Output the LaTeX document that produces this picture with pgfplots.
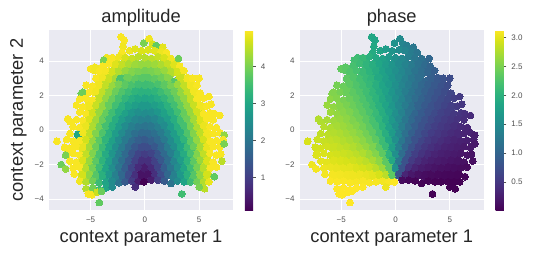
\documentclass[border=0pt]{standalone}
\usepackage{pgfplots}
\usepackage{pgfplotstable}
\usepackage{fontspec}
\setmainfont{Liberation Sans}
\pgfplotsset{compat=1.18}
\definecolor{bgc}{HTML}{EAEAF2}
\definecolor{txt}{HTML}{262626}
\pgfplotstableread{
x y a p
-2.2 5.4 4.95 1.87
-1.9 5.2 4.95 1.84
-2.0 4.85 4.9 1.88
-0.1 5.05 4.0 1.6
0.4 5.3 4.9 1.5
0.7 5.0 4.7 1.43
1.05 4.9 3.8 1.35
1.65 4.8 4.8 1.25
-3.5 4.2 4.9 2.15
-3.8 4.05 4.0 2.18
-2.1 4.5 4.95 1.92
-1.4 4.6 4.87 1.83
-0.9 4.7 4.77 1.72
-0.3 4.6 4.72 1.62
0.3 4.65 4.72 1.52
0.9 4.6 4.77 1.42
1.5 4.55 4.87 1.31
2.0 4.5 4.95 1.22
-3.0 4.2 4.95 2.1
-2.4 4.25 4.88 1.99
-1.8 4.2 4.7 1.89
-1.2 4.15 4.57 1.79
-0.6 4.25 4.49 1.68
0.0 4.2 4.46 1.57
0.6 4.15 4.49 1.46
1.2 4.25 4.57 1.35
1.8 4.2 4.7 1.25
2.4 4.15 4.88 1.15
3.1 4.15 3.9 1.03
-3.9 3.7 4.95 2.22
-3.3 3.85 4.95 2.14
-2.7 3.8 4.76 2.05
-2.1 3.75 4.56 1.96
-1.5 3.85 4.4 1.85
-0.9 3.8 4.28 1.74
-0.3 3.75 4.23 1.63
0.3 3.85 4.23 1.51
0.9 3.8 4.28 1.4
1.5 3.75 4.4 1.29
2.1 3.85 4.56 1.18
2.7 3.8 4.76 1.09
3.2 3.7 4.95 1.0
-5.0 3.55 4.95 2.38
-4.6 3.55 4.9 2.33
-4.2 3.4 4.95 2.28
-3.6 3.45 4.93 2.21
-3.0 3.35 4.67 2.12
-2.4 3.4 4.43 2.03
-1.8 3.45 4.24 1.93
-1.2 3.35 4.09 1.81
-0.6 3.4 4.0 1.69
0.0 3.45 3.97 1.57
0.6 3.35 4.0 1.45
1.2 3.4 4.09 1.33
1.8 3.45 4.24 1.21
2.4 3.35 4.43 1.11
3.0 3.4 4.67 1.02
3.6 3.45 4.93 0.93
-4.5 3.0 4.95 2.35
-3.9 3.05 4.9 2.28
-3.3 2.95 4.6 2.2
-2.7 3.0 4.33 2.11
-2.3 2.95 3.6 2.05
-1.5 3.05 3.92 1.89
-0.9 2.95 3.79 1.77
-0.3 3.0 3.73 1.64
0.3 3.05 3.73 1.5
0.9 2.95 3.79 1.37
1.5 3.0 3.92 1.25
2.1 3.05 4.1 1.14
2.8 2.75 3.7 1.03
3.3 3.0 4.6 0.94
3.9 2.95 4.9 0.86
4.4 3.0 4.95 0.79
5.0 3.0 4.95 0.73
-5.4 2.6 4.95 2.48
-4.8 2.55 4.95 2.42
-4.2 2.65 4.89 2.35
-3.6 2.6 4.55 2.27
-3.0 2.55 4.25 2.19
-2.4 2.65 3.99 2.09
-1.8 2.6 3.77 1.97
-1.2 2.55 3.6 1.84
-0.6 2.65 3.5 1.71
0.0 2.6 3.47 1.57
0.6 2.55 3.5 1.43
1.2 2.65 3.6 1.3
1.8 2.6 3.77 1.17
2.4 2.55 3.99 1.05
3.0 2.65 4.25 0.95
3.6 2.6 4.55 0.87
4.2 2.55 4.89 0.79
4.8 2.6 4.95 0.72
-5.7 2.1 3.9 2.54
-5.1 2.2 4.95 2.48
-4.5 2.25 4.9 2.42
-3.9 2.15 4.54 2.35
-3.3 2.2 4.21 2.27
-2.7 2.25 3.9 2.17
-2.1 2.15 3.65 2.06
-1.5 2.2 3.45 1.93
-0.9 2.25 3.3 1.8
-0.3 2.15 3.23 1.65
0.3 2.2 3.23 1.49
0.9 2.25 3.3 1.34
1.5 2.15 3.45 1.21
2.1 2.2 3.65 1.08
2.7 2.25 3.9 0.97
3.3 2.15 4.21 0.87
3.9 2.2 4.54 0.79
4.5 2.25 4.9 0.72
5.1 2.15 4.95 0.66
-6.0 1.8 4.95 2.6
-5.4 1.85 4.95 2.55
-4.8 1.75 4.94 2.49
-4.2 1.8 4.55 2.43
-3.6 1.85 4.19 2.35
-3.0 1.75 3.86 2.26
-2.4 1.8 3.57 2.15
-1.8 1.85 3.33 2.03
-1.2 1.75 3.14 1.89
-0.6 1.8 3.02 1.73
0.0 1.85 2.98 1.57
0.6 1.75 3.02 1.41
1.2 1.8 3.14 1.25
1.8 1.85 3.33 1.11
2.4 1.75 3.57 0.99
3.0 1.8 3.86 0.88
3.6 1.85 4.19 0.79
4.2 1.75 4.55 0.71
4.8 1.8 4.94 0.65
5.4 1.85 4.95 0.59
5.9 1.95 4.95 0.54
-6.3 1.45 4.95 2.65
-5.7 1.35 4.95 2.61
-5.1 1.4 4.9 2.56
-4.5 1.45 4.59 2.5
-3.9 1.35 4.21 2.43
-3.3 1.4 3.85 2.35
-2.7 1.45 3.51 2.25
-2.1 1.35 3.23 2.13
-1.5 1.4 2.99 1.99
-0.9 1.45 2.83 1.83
-0.3 1.35 2.74 1.66
0.3 1.4 2.74 1.48
0.9 1.45 2.83 1.31
1.5 1.35 2.99 1.15
2.1 1.4 3.23 1.01
2.7 1.45 3.51 0.89
3.3 1.35 3.85 0.79
3.9 1.4 4.21 0.71
4.5 1.45 4.59 0.64
5.1 1.35 4.9 0.58
5.7 1.4 4.95 0.53
6.1 1.5 4.95 0.49
-6.0 1.05 4.95 2.67
-5.4 0.95 4.95 2.63
-4.8 1.0 4.66 2.58
-4.2 1.05 4.24 2.52
-3.6 0.95 3.85 2.44
-3.0 1.0 3.49 2.35
-2.4 1.05 3.17 2.24
-1.8 0.95 2.89 2.11
-1.2 1.0 2.67 1.95
-0.6 1.05 2.53 1.76
0.0 0.95 2.48 1.57
0.6 1.0 2.53 1.38
1.2 1.05 2.67 1.19
1.8 0.95 2.89 1.03
2.4 1.0 3.17 0.9
3.0 1.05 3.49 0.79
3.6 0.95 3.85 0.7
4.2 1.0 4.24 0.62
4.8 1.05 4.66 0.56
5.4 0.95 4.95 0.51
6.0 1.0 4.95 0.47
6.4 0.95 4.95 0.43
-7.1 0.65 4.95 2.78
-6.9 0.5 4.95 2.76
-6.3 0.6 4.95 2.73
-5.7 0.55 4.95 2.69
-5.1 0.65 4.74 2.65
-4.5 0.6 4.31 2.6
-3.9 0.55 3.9 2.53
-3.3 0.65 3.51 2.45
-2.7 0.6 3.14 2.35
-2.1 0.55 2.82 2.23
-1.5 0.65 2.55 2.07
-0.9 0.6 2.35 1.89
-0.3 0.55 2.24 1.68
0.3 0.65 2.24 1.46
0.9 0.6 2.35 1.25
1.5 0.55 2.55 1.07
2.1 0.65 2.82 0.91
2.7 0.6 3.14 0.79
3.3 0.55 3.51 0.69
3.9 0.65 3.9 0.61
4.5 0.6 4.31 0.54
5.1 0.55 4.74 0.49
5.7 0.65 4.95 0.45
6.3 0.6 4.95 0.41
6.9 0.85 4.95 0.38
-6.6 0.2 4.95 2.79
-6.0 0.15 4.95 2.76
-5.4 0.25 4.85 2.72
-4.8 0.2 4.41 2.67
-4.2 0.15 3.97 2.62
-3.6 0.25 3.55 2.55
-3.0 0.2 3.16 2.46
-2.4 0.15 2.79 2.35
-1.8 0.25 2.47 2.21
-1.2 0.2 2.21 2.03
-0.6 0.15 2.04 1.81
0.0 0.25 1.98 1.57
0.6 0.2 2.04 1.33
1.2 0.15 2.21 1.11
1.8 0.25 2.47 0.93
2.4 0.2 2.79 0.79
3.0 0.15 3.16 0.68
3.6 0.25 3.55 0.59
4.2 0.2 3.97 0.52
4.8 0.15 4.41 0.47
5.4 0.25 4.85 0.42
6.0 0.2 4.95 0.38
6.6 0.15 4.95 0.35
-6.9 -0.2 4.95 2.84
-6.05 -0.27 3.0 2.82
-5.7 -0.15 4.9 2.78
-5.1 -0.25 4.53 2.75
-4.5 -0.2 4.08 2.7
-3.9 -0.15 3.64 2.64
-3.3 -0.25 3.22 2.57
-2.7 -0.2 2.81 2.47
-2.1 -0.15 2.45 2.35
-1.5 -0.25 2.13 2.18
-0.9 -0.2 1.89 1.97
-0.3 -0.15 1.76 1.71
0.3 -0.25 1.76 1.43
0.9 -0.2 1.89 1.17
1.5 -0.15 2.13 0.96
2.1 -0.25 2.45 0.79
2.7 -0.2 2.81 0.67
3.3 -0.15 3.22 0.57
3.9 -0.25 3.64 0.5
4.5 -0.2 4.08 0.44
5.1 -0.15 4.53 0.39
5.7 -0.25 4.9 0.36
6.3 -0.2 4.95 0.32
6.9 -0.15 4.95 0.3
7.3 -0.3 4.2 0.25
-8.1 -0.65 4.95 2.95
-7.2 -0.55 4.95 2.89
-6.6 -0.65 4.95 2.87
-6.0 -0.6 4.95 2.85
-5.4 -0.55 4.67 2.82
-4.8 -0.65 4.21 2.78
-4.2 -0.6 3.75 2.73
-3.6 -0.55 3.3 2.67
-3.0 -0.65 2.88 2.6
-2.4 -0.6 2.47 2.49
-1.8 -0.55 2.1 2.35
-1.2 -0.65 1.78 2.15
-0.6 -0.6 1.57 1.89
0.0 -0.55 1.49 1.57
0.6 -0.65 1.57 1.25
1.2 -0.6 1.78 0.99
1.8 -0.55 2.1 0.79
2.4 -0.65 2.47 0.65
3.0 -0.6 2.88 0.54
3.6 -0.55 3.3 0.47
4.2 -0.65 3.75 0.41
4.8 -0.6 4.21 0.36
5.4 -0.55 4.67 0.32
6.0 -0.65 4.95 0.29
6.6 -0.6 4.95 0.27
7.2 -0.55 4.95 0.25
-7.4 -1.0 4.95 2.93
-6.9 -1.05 4.95 2.93
-6.3 -0.95 4.95 2.91
-5.7 -1.0 4.83 2.88
-5.1 -1.05 4.36 2.85
-4.5 -0.95 3.89 2.82
-3.9 -1.0 3.43 2.77
-3.3 -1.05 2.98 2.71
-2.7 -0.95 2.53 2.63
-2.1 -1.0 2.12 2.52
-1.5 -1.05 1.75 2.35
-0.9 -0.95 1.44 2.11
-0.3 -1.0 1.26 1.77
0.3 -1.05 1.26 1.37
0.9 -0.95 1.44 1.03
1.5 -1.0 1.75 0.79
2.1 -1.05 2.12 0.62
2.7 -0.95 2.53 0.51
3.3 -1.0 2.98 0.43
3.9 -1.05 3.43 0.37
4.5 -0.95 3.89 0.32
5.1 -1.0 4.36 0.29
5.7 -1.05 4.83 0.26
6.3 -0.95 4.95 0.23
6.9 -1.0 4.95 0.21
7.3 -0.8 4.0 0.2
-7.2 -1.4 4.95 2.97
-7.3 -1.45 4.0 2.97
-6.6 -1.35 4.95 2.96
-6.0 -1.45 4.95 2.94
-5.4 -1.4 4.54 2.92
-4.8 -1.35 4.06 2.89
-4.2 -1.45 3.58 2.86
-3.6 -1.4 3.11 2.82
-3.0 -1.35 2.65 2.76
-2.4 -1.45 2.2 2.67
-1.8 -1.4 1.78 2.55
-1.2 -1.35 1.39 2.35
-0.6 -1.45 1.1 2.03
0.0 -1.4 0.99 1.57
0.6 -1.35 1.1 1.11
1.2 -1.45 1.39 0.79
1.8 -1.4 1.78 0.59
2.4 -1.35 2.2 0.47
3.0 -1.45 2.65 0.38
3.6 -1.4 3.11 0.32
4.2 -1.35 3.58 0.28
4.8 -1.45 4.06 0.25
5.4 -1.4 4.54 0.22
6.0 -1.35 4.95 0.2
6.6 -1.45 4.95 0.18
7.0 -1.4 4.95 0.17
-7.7 -2.0 3.9 3.05
-6.9 -1.8 4.95 3.01
-6.3 -1.85 4.95 3.0
-5.7 -1.75 4.73 2.98
-5.1 -1.8 4.25 2.96
-4.5 -1.85 3.76 2.94
-3.9 -1.75 3.28 2.91
-3.3 -1.8 2.81 2.87
-2.7 -1.85 2.33 2.82
-2.1 -1.75 1.87 2.73
-1.5 -1.8 1.44 2.6
-0.9 -1.85 1.05 2.35
-0.3 -1.75 0.78 1.89
0.3 -1.8 0.78 1.25
0.9 -1.85 1.05 0.79
1.5 -1.75 1.44 0.54
2.1 -1.8 1.87 0.41
2.7 -1.85 2.33 0.32
3.3 -1.75 2.81 0.27
3.9 -1.8 3.28 0.23
4.5 -1.85 3.76 0.2
5.1 -1.75 4.25 0.18
5.7 -1.8 4.73 0.16
6.3 -1.85 4.95 0.14
7.1 -1.8 4.5 0.13
-7.3 -2.25 4.2 3.08
-6.6 -2.2 4.95 3.05
-6.0 -2.15 4.95 3.04
-5.4 -2.25 4.46 3.03
-4.8 -2.2 3.97 3.01
-4.2 -2.15 3.48 3.0
-3.6 -2.25 2.99 2.97
-3.0 -2.2 2.51 2.94
-2.4 -2.15 2.03 2.89
-1.8 -2.25 1.56 2.81
-1.2 -2.2 1.1 2.67
-0.6 -2.15 0.7 2.35
0.0 -2.25 0.5 1.57
0.6 -2.2 0.7 0.8
1.2 -2.15 1.1 0.47
1.8 -2.25 1.56 0.33
2.4 -2.2 2.03 0.25
3.0 -2.15 2.51 0.2
3.6 -2.25 2.99 0.17
4.2 -2.2 3.48 0.14
4.8 -2.15 3.97 0.13
5.4 -2.25 4.46 0.11
6.0 -2.2 4.95 0.1
6.6 -2.15 4.95 0.09
-6.5 -2.55 4.95 3.08
-5.7 -2.6 4.68 3.09
-5.1 -2.55 4.19 3.08
-4.5 -2.65 3.7 3.07
-3.9 -2.6 3.21 3.06
-3.3 -2.55 2.72 3.05
-2.7 -2.65 2.22 3.03
-2.1 -2.6 1.74 3.0
-1.5 -2.55 1.26 2.94
-0.9 -2.65 0.78 2.81
-0.3 -2.6 0.35 2.35
0.3 -2.55 0.35 0.79
0.9 -2.65 0.78 0.33
1.5 -2.6 1.26 0.2
2.1 -2.55 1.74 0.14
2.7 -2.65 2.22 0.11
3.3 -2.6 2.72 0.09
3.9 -2.55 3.21 0.08
4.5 -2.65 3.7 0.07
5.1 -2.6 4.19 0.06
5.7 -2.55 4.68 0.05
6.4 -2.7 3.8 0.05
-6.0 -2.95 4.9 3.12
-5.4 -3.0 4.43 3.12
-4.8 -2.95 3.94 3.11
-4.2 -3.05 3.44 3.11
-3.6 -3.0 2.95 3.1
-3.0 -2.95 2.46 3.1
-2.4 -3.05 1.97 3.1
-1.8 -3.0 1.48 3.1
-1.2 -2.95 0.98 3.08
-0.6 -3.0 0.49 3.1
-0.1 -3.0 0.12 3.12
0.6 -2.9 0.49 0.1
1.2 -2.9 0.98 0.06
1.8 -2.95 1.48 0.04
2.4 -3.1 1.97 0.03
3.0 -2.95 2.46 0.03
3.6 -3.0 2.95 0.02
4.2 -3.0 3.44 0.02
4.8 -3.0 3.94 0.02
5.4 -3.0 4.43 0.02
5.9 -3.0 4.85 0.02
-5.4 -3.4 4.43 3.13
-4.8 -3.35 3.94 3.13
-4.2 -3.45 3.44 3.13
-3.6 -3.35 3.0 3.13
-3.0 -3.3 2.46 3.12
-0.9 -3.3 0.75 3.05
5.5 -3.4 4.5 0.02
5.0 -3.3 4.0 0.02
-5.2 -3.7 4.95 3.13
-4.9 -3.75 4.95 3.13
-4.4 -3.6 4.6 3.13
-4.0 -3.55 3.9 3.13
3.4 -3.7 3.5 0.02
-4.2 -4.2 3.8 3.13
}\pts
\pgfplotsset{
  sc/.style={
    at={(#1,46.7pt)}, anchor=south west, scale only axis,
    width=183.5pt, height=180.3pt,
    xmin=-8.8, xmax=8.1, ymin=-4.65, ymax=5.8,
    axis background/.style={fill=bgc},
    axis line style={draw=none},
    major tick length=0pt,
    grid=major, grid style={white, line width=0.8pt},
    xtick={-5,0,5}, xticklabels={−5,0,5},
    ytick={-4,-2,0,2,4}, yticklabels={−4,−2,0,2,4},
    tick label style={font=\fontsize{8}{9}\selectfont, text=txt!80},
    xticklabel style={yshift=-3pt},
    yticklabel style={xshift=-2pt},
    xlabel={context parameter 1},
    xlabel style={font=\fontsize{18.3}{20}\selectfont, text=txt, at={(0.5,0)}, anchor=center, yshift=-27.5pt},
    title style={font=\fontsize{18.3}{20}\selectfont, text=txt, at={(0.5,1)}, anchor=center, yshift=6.5pt},
    colormap/viridis, colorbar,
    unbounded coords=discard,
  },
  cb/.style={
    colorbar style={
      at={(1.0655,0)}, anchor=south west,
      width=8.4pt, height=180.3pt,
      axis line style={draw=none},
      ytick pos=right, yticklabel pos=right,
      tick align=outside, major tick length=2.5pt,
      major tick style={txt!80, line width=0.5pt},
      tick label style={font=\fontsize{8}{9}\selectfont, text=txt!80},
      yticklabel style={xshift=1.5pt},
      #1
    }
  },
  mk/.style={
    scatter, only marks, mark=*, mark size=3.4pt,
    scatter/use mapped color={draw=mapped color, fill=mapped color},
    mark options={line width=0pt},
  },
  under/.style={
    mk, mark size=5pt,
    y filter/.expression={and(and(\thisrow{a}<4.92, \thisrow{y}<3.9), and(\thisrow{y}>-2.8, abs(\thisrow{x})<6.4)) ? y : nan},
  },
}
\begin{document}
\begin{tikzpicture}[x=1pt,y=1pt]
\path[use as bounding box] (0,0) rectangle (541,257);
\begin{axis}[sc=49.3pt, title={amplitude},
  ylabel={context parameter 2},
  ylabel style={font=\fontsize{18.3}{20}\selectfont, text=txt, at={(0,0.5)}, anchor=center, yshift=31pt},
  point meta min=0.12, point meta max=4.99,
  cb={ytick={1,2,3,4}, yticklabels={1,2,3,4}}]
\addplot[under, point meta=explicit] table[x=x,y=y,meta=a]{\pts};
\addplot[mk, point meta=explicit] table[x=x,y=y,meta=a]{\pts};
\end{axis}
\begin{axis}[sc=300pt, title={phase},
  point meta min=0.01, point meta max=3.13,
  cb={ytick={0.5,1,1.5,2,2.5,3}, yticklabels={0.5,1.0,1.5,2.0,2.5,3.0}}]
\addplot[under, point meta=explicit] table[x=x,y=y,meta=p]{\pts};
\addplot[mk, point meta=explicit] table[x=x,y=y,meta=p]{\pts};
\end{axis}
\end{tikzpicture}
\end{document}
